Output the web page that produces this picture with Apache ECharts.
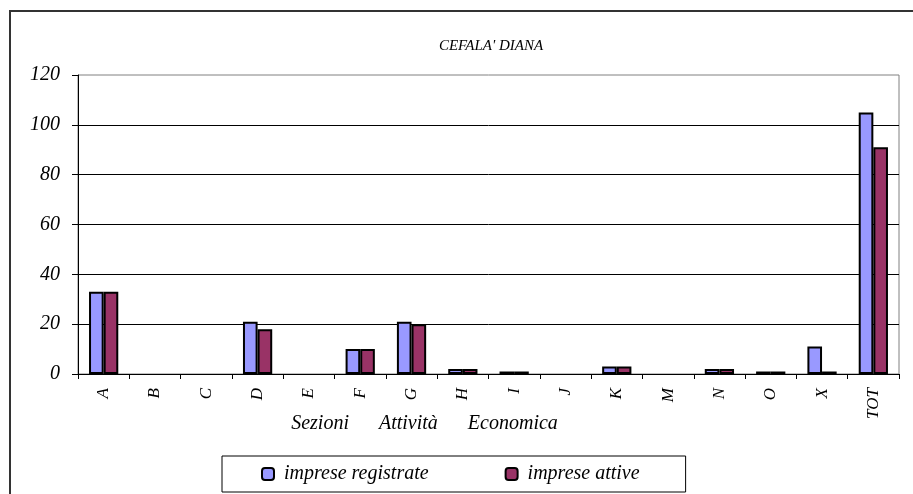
<!DOCTYPE html>
<html><head><meta charset="utf-8">
<script src="https://cdn.jsdelivr.net/npm/echarts@6/dist/echarts.min.js"></script>
<style>html,body{margin:0;padding:0;background:#fff}#c{width:913px;height:494px}</style>
</head><body><div id="c"></div>
<script>
const categories = ['A','B','C','D','E','F','G','H','I','J','K','M','N','O','X','TOT'];
const registrate = [33,0,0,21,0,10,21,2,1,0,3,0,2,1,11,105];
const attive = [33,0,0,18,0,10,20,2,1,0,3,0,2,1,1,91];
const yTicks = {min:0, max:120, interval:20};
const titleText = "CEFALA' DIANA";
const axisName = 'Sezioni      Attività      Economica';
const seriesNames = ['imprese registrate','imprese attive'];

const ff = '"Liberation Serif", "DejaVu Serif", serif';
const hideZero = arr => arr.map(v => v === 0 ? null : v);
const chart = echarts.init(document.getElementById('c'), null, {renderer:'canvas'});
chart.setOption({
  animation:false,
  title:{text:titleText, left:486, top:34, textAlign:'center',
    textStyle:{fontFamily:ff, fontStyle:'italic', fontWeight:'normal', fontSize:15, color:'#000'}},
  grid:{left:78, top:75, width:821, height:299, show:true, borderColor:'#808080', borderWidth:1},
  legend:{left:222, top:456, itemWidth:12, itemHeight:12, itemGap:76,
    padding:[8,46,8,39], borderColor:'#000', borderWidth:1,
    textStyle:{fontFamily:ff, fontStyle:'italic', fontSize:20, color:'#000', padding:[0,0,0,5]},
    data:seriesNames},
  xAxis:{type:'category', data:categories,
    axisLine:{lineStyle:{color:'#000', width:1}},
    axisTick:{show:true, length:5, lineStyle:{color:'#000'}},
    axisLabel:{rotate:90, margin:14, fontFamily:ff, fontStyle:'italic', fontSize:17, color:'#000'},
    name:axisName, nameLocation:'middle', nameGap:40, nameMoveOverlap:false,
    nameTextStyle:{fontFamily:ff, fontStyle:'italic', fontSize:20, color:'#000', padding:[0,128,0,0]}},
  yAxis:{type:'value', min:yTicks.min, max:yTicks.max, interval:yTicks.interval,
    axisLine:{show:true, lineStyle:{color:'#000'}},
    axisTick:{show:true, length:6, lineStyle:{color:'#000'}},
    axisLabel:{margin:18, fontFamily:ff, fontStyle:'italic', fontSize:20, color:'#000'},
    splitLine:{showMaxLine:false, lineStyle:{color:'#000', width:1}}},
  series:[
    {name:seriesNames[0], type:'bar', data:hideZero(registrate), barGap:'0%', barCategoryGap:'43%',
      itemStyle:{color:'#9999FF', borderColor:'#000', borderWidth:2}},
    {name:seriesNames[1], type:'bar', data:hideZero(attive),
      itemStyle:{color:'#993366', borderColor:'#000', borderWidth:2}}
  ],
  graphic:[
    {type:'polyline', shape:{points:[[10,494],[10,11],[913,11]]}, style:{stroke:'#333', lineWidth:2, fill:null}, silent:true}
  ]
});
</script></body></html>
